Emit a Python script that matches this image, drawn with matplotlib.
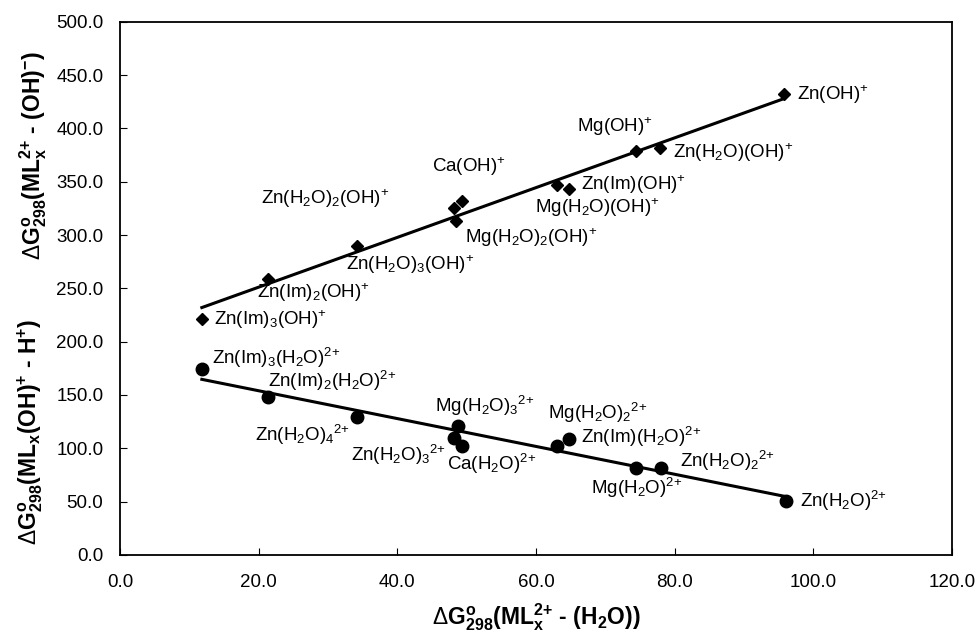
import numpy as np
import matplotlib
matplotlib.use("Agg")
import matplotlib.pyplot as plt

plt.rcParams['font.family'] = ['Liberation Sans', 'DejaVu Sans']
plt.rcParams['mathtext.fontset'] = 'custom'
plt.rcParams['mathtext.rm'] = 'Liberation Sans'
plt.rcParams['mathtext.it'] = 'Liberation Sans:italic'
plt.rcParams['mathtext.bf'] = 'Liberation Sans:bold'
plt.rcParams['mathtext.default'] = 'regular'

# ---- data: hydroxide species (diamonds) ----
oh_x = [11.8, 21.4, 34.2, 48.1, 48.4, 49.3, 63.1, 64.8, 74.4, 77.9, 95.8]
oh_y = [221.6, 259.0, 290.0, 325.0, 313.0, 332.0, 346.5, 343.6, 379.0, 382.0, 432.0]

# ---- data: aqua species (circles) ----
aq_x = [11.8, 21.4, 34.2, 48.7, 48.1, 49.3, 63.1, 64.8, 74.4, 78.0, 96.1]
aq_y = [174.6, 148.0, 129.6, 121.0, 110.0, 102.0, 102.5, 109.0, 81.6, 82.0, 50.7]

oh_labels = ['Zn(OH)$^{+}$', 'Mg(OH)$^{+}$', 'Zn(H$_2$O)(OH)$^{+}$', 'Ca(OH)$^{+}$',
             'Zn(H$_2$O)$_2$(OH)$^{+}$', 'Zn(Im)(OH)$^{+}$', 'Mg(H$_2$O)(OH)$^{+}$',
             'Mg(H$_2$O)$_2$(OH)$^{+}$', 'Zn(H$_2$O)$_3$(OH)$^{+}$', 'Zn(Im)$_2$(OH)$^{+}$',
             'Zn(Im)$_3$(OH)$^{+}$']
oh_label_pos = [(97.7, 431.5), (65.9, 401.5), (79.7, 377), (45.0, 364), (20.4, 334),
                (66.5, 347), (59.9, 325.5), (49.7, 298), (32.6, 272), (19.8, 246),
                (13.6, 220.5)]

aq_labels = ['Zn(Im)$_3$(H$_2$O)$^{2{+}}$', 'Zn(Im)$_2$(H$_2$O)$^{2{+}}$',
             'Zn(H$_2$O)$_4$$^{2{+}}$', 'Mg(H$_2$O)$_3$$^{2{+}}$', 'Zn(H$_2$O)$_3$$^{2{+}}$',
             'Ca(H$_2$O)$^{2{+}}$', 'Mg(H$_2$O)$_2$$^{2{+}}$', 'Zn(Im)(H$_2$O)$^{2{+}}$',
             'Mg(H$_2$O)$^{2{+}}$', 'Zn(H$_2$O)$_2$$^{2{+}}$', 'Zn(H$_2$O)$^{2{+}}$']
aq_label_pos = [(13.2, 185), (21.3, 163), (19.4, 112.6), (45.5, 140), (33.3, 94),
                (47.1, 85), (61.8, 133), (66.5, 111), (68.0, 63), (80.7, 88),
                (98.1, 50.7)]

x_ticks = [0, 20, 40, 60, 80, 100, 120]
y_ticks = [0, 50, 100, 150, 200, 250, 300, 350, 400, 450, 500]

fig = plt.figure(figsize=(9.79, 6.39), dpi=100)
ax = fig.add_axes([0.1226, 0.1315, 0.8498, 0.8345])

# trendlines from least-squares fit
for xs, ys in ((oh_x, oh_y), (aq_x, aq_y)):
    xs = np.array(xs); ys = np.array(ys)
    m, b = np.polyfit(xs, ys, 1)
    xl = np.array([xs.min(), xs.max()])
    ax.plot(xl, m * xl + b, color='black', lw=2.2, zorder=2)

ax.plot(oh_x, oh_y, 'D', color='black', markersize=6.5, zorder=3)
ax.plot(aq_x, aq_y, 'o', color='black', markersize=9, zorder=3)

for lab, (tx, ty) in zip(oh_labels, oh_label_pos):
    ax.text(tx, ty, lab, fontsize=13.5, ha='left', va='center')
for lab, (tx, ty) in zip(aq_labels, aq_label_pos):
    ax.text(tx, ty, lab, fontsize=13.5, ha='left', va='center')

ax.set_xlim(0, 120)
ax.set_ylim(0, 500)
ax.set_xticks(x_ticks)
ax.set_yticks(y_ticks)
ax.set_xticklabels([f'{v:.1f}' for v in x_ticks])
ax.set_yticklabels([f'{v:.1f}' for v in y_ticks])
ax.tick_params(axis='x', direction='in', length=5, pad=14, labelsize=13.5)
ax.tick_params(axis='y', direction='in', length=5, pad=12, labelsize=13.5)
for s in ax.spines.values():
    s.set_linewidth(1.3)

fig.text(0.548, 0.010, r'$\mathrm{\Delta}$G$^o_{298}$(ML$_x^{2{+}}$ - (H$_2$O))',
         fontsize=16.5, fontweight='bold', ha='center', va='bottom')
fig.text(0.034, 0.757, r'$\mathrm{\Delta}$G$^o_{298}$(ML$_x^{2{+}}$ - (OH)$^{-}$)',
         fontsize=16.5, fontweight='bold', ha='center', va='center', rotation=90)
fig.text(0.031, 0.324, r'$\mathrm{\Delta}$G$^o_{298}$(ML$_x$(OH)$^{+}$ - H$^{+}$)',
         fontsize=16.5, fontweight='bold', ha='center', va='center', rotation=90)

fig.savefig('out.png', dpi=100)
